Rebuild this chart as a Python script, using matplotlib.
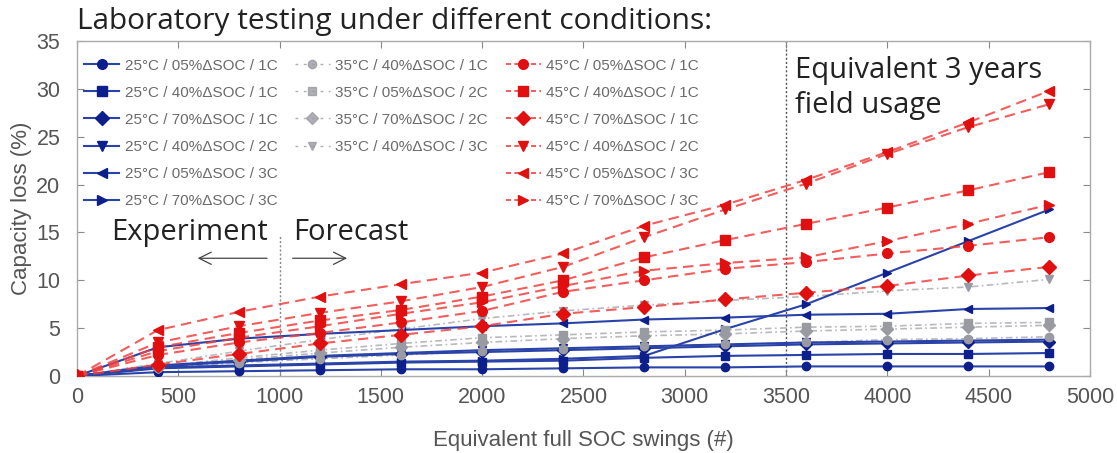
import matplotlib
matplotlib.use("Agg")
import matplotlib.pyplot as plt
from matplotlib.lines import Line2D

swings = [0, 400, 800, 1200, 1600, 2000, 2400, 2800, 3200, 3600, 4000, 4400, 4800]

# 25 degC (blue, solid)
b_05_1C = [0, 0.4, 0.5, 0.6, 0.7, 0.7, 0.8, 0.9, 0.9, 1.0, 1.0, 1.0, 1.0]
b_40_1C = [0, 0.8, 1.0, 1.2, 1.4, 1.5, 1.6, 1.9, 2.1, 2.2, 2.3, 2.3, 2.4]
b_70_1C = [0, 1.0, 1.5, 2.0, 2.3, 2.5, 2.7, 2.9, 3.1, 3.3, 3.4, 3.5, 3.6]
b_40_2C = [0, 1.1, 1.6, 2.1, 2.4, 2.7, 2.9, 3.1, 3.3, 3.5, 3.6, 3.7, 3.8]
b_05_3C = [0, 3.0, 3.9, 4.4, 4.8, 5.2, 5.5, 5.9, 6.1, 6.4, 6.5, 7.0, 7.1]
b_70_3C = [0, 0.9, 1.1, 1.3, 1.5, 1.6, 1.8, 2.1, 4.9, 7.5, 10.8, 14.1, 17.4]

# 35 degC (grey, dash-dot)
g_40_1C = [0, 0.8, 1.4, 1.8, 2.2, 2.6, 2.8, 3.1, 3.3, 3.5, 3.8, 3.9, 4.1]
g_05_2C = [0, 1.0, 1.9, 2.7, 3.4, 4.0, 4.3, 4.6, 4.8, 5.1, 5.2, 5.5, 5.6]
g_70_2C = [0, 0.9, 1.7, 2.4, 3.0, 3.5, 3.9, 4.2, 4.4, 4.7, 4.9, 5.1, 5.3]
g_40_3C = [0, 1.3, 2.6, 3.8, 4.9, 6.0, 6.8, 7.4, 7.9, 8.3, 8.9, 9.3, 10.1]

# 45 degC (red, dashed)
r_05_1C = [0, 2.2, 3.5, 4.5, 5.6, 6.8, 8.8, 10.0, 11.2, 11.9, 12.8, 13.6, 14.5]
r_40_1C = [0, 3.0, 4.5, 5.8, 6.9, 8.3, 10.0, 12.4, 14.2, 15.9, 17.6, 19.4, 21.3]
r_70_1C = [0, 1.2, 2.3, 3.4, 4.3, 5.2, 6.5, 7.2, 8.0, 8.7, 9.4, 10.5, 11.4]
r_40_2C = [0, 3.5, 5.2, 6.6, 7.8, 9.3, 11.4, 14.5, 17.4, 20.1, 23.2, 26.0, 28.4]
r_05_3C = [0, 4.8, 6.7, 8.3, 9.6, 10.8, 12.8, 15.7, 17.9, 20.5, 23.4, 26.5, 29.8]
r_70_3C = [0, 2.6, 4.0, 5.2, 6.5, 7.7, 9.4, 11.0, 11.8, 12.4, 14.1, 15.9, 17.9]

blue_labels = ["25°C / 05%ΔSOC / 1C", "25°C / 40%ΔSOC / 1C", "25°C / 70%ΔSOC / 1C",
               "25°C / 40%ΔSOC / 2C", "25°C / 05%ΔSOC / 3C", "25°C / 70%ΔSOC / 3C"]
grey_labels = ["35°C / 40%ΔSOC / 1C", "35°C / 05%ΔSOC / 2C", "35°C / 70%ΔSOC / 2C",
               "35°C / 40%ΔSOC / 3C"]
red_labels = ["45°C / 05%ΔSOC / 1C", "45°C / 40%ΔSOC / 1C", "45°C / 70%ΔSOC / 1C",
              "45°C / 40%ΔSOC / 2C", "45°C / 05%ΔSOC / 3C", "45°C / 70%ΔSOC / 3C"]

blue_series = [b_05_1C, b_40_1C, b_70_1C, b_40_2C, b_05_3C, b_70_3C]
grey_series = [g_40_1C, g_05_2C, g_70_2C, g_40_3C]
red_series = [r_05_1C, r_40_1C, r_70_1C, r_40_2C, r_05_3C, r_70_3C]

blue_markers = ["o", "s", "D", "v", "<", ">"]
grey_markers = ["o", "s", "D", "v"]
red_markers = ["o", "s", "D", "v", "<", ">"]

BLUE = "#2a43a8"
BLUE_M = "#0c1f8a"
GREY = "#9a9aa2"
RED = "#f04040"
RED_M = "#e01010"

fig = plt.figure(figsize=(11.17, 4.53), dpi=100)
ax = fig.add_axes([0.0689, 0.170, 0.9069, 0.7395])

handles = []
for ys, m, lab in zip(blue_series, blue_markers, blue_labels):
    ax.plot(swings, ys, color=BLUE, lw=1.5, ls="-", zorder=3)
    ax.plot(swings, ys, ls="none", marker=m, ms=6, color=BLUE_M, zorder=4)
    handles.append(Line2D([], [], color=BLUE, lw=1.5, marker=m, ms=7,
                          mfc=BLUE_M, mec=BLUE_M, label=lab))
for ys, m, lab in zip(grey_series, grey_markers, grey_labels):
    ax.plot(swings, ys, color=GREY, lw=1.2, ls=(0, (4, 2, 1, 2)), alpha=0.7, zorder=2)
    ax.plot(swings, ys, ls="none", marker=m, ms=6, color=GREY, zorder=4)
    handles.append(Line2D([], [], color=GREY, lw=1.0, ls=(0, (2, 4)), alpha=0.8,
                          marker=m, ms=6, mfc=GREY, mec=GREY, label=lab))
for _ in range(2):
    handles.append(Line2D([], [], ls="none", label=" "))
for ys, m, lab in zip(red_series, red_markers, red_labels):
    ax.plot(swings, ys, color=RED, lw=1.5, ls=(0, (5, 3)), alpha=0.85, zorder=5)
    ax.plot(swings, ys, ls="none", marker=m, ms=7, color=RED_M, zorder=6)
    handles.append(Line2D([], [], color=RED, lw=1.2, ls=(0, (3, 2)),
                          marker=m, ms=7, mfc=RED_M, mec=RED_M, label=lab))

leg = ax.legend(handles=handles, ncol=3, loc="upper left",
                bbox_to_anchor=(-0.002, 0.975), frameon=False,
                prop={"family": "Liberation Sans", "size": 11},
                handlelength=2.3, handletextpad=0.35, columnspacing=1.15,
                labelspacing=0.86, borderaxespad=0.2)
for t in leg.get_texts():
    t.set_color("#6a6a6a")

ax.set_xlim(0, 5000)
ax.set_ylim(0, 35)
ax.set_xticks(range(0, 5001, 500))
ax.set_yticks(range(0, 36, 5))
ax.tick_params(direction="in", top=True, right=True, length=5, width=0.8,
               colors="#888888", labelcolor="#555555", labelsize=15.5)
ax.tick_params(axis="x", pad=8)
ax.tick_params(axis="y", pad=12)
for lab in ax.get_xticklabels() + ax.get_yticklabels():
    lab.set_family("Liberation Sans")
for s in ax.spines.values():
    s.set_color("#aaaaaa")
    s.set_linewidth(1.0)

ax.set_xlabel("Equivalent full SOC swings (#)", family="Liberation Sans",
              fontsize=16, color="#555555", labelpad=16)
ax.set_ylabel("Capacity loss (%)", family="Liberation Sans",
              fontsize=16, color="#555555", labelpad=3)

# vertical markers
ax.plot([1000, 1000], [0, 14.6], color="#888888", lw=1.0, ls=(0, (1.5, 1.5)), zorder=1)
ax.axvline(3500, color="#555555", lw=1.0, ls=(0, (1.5, 1.5)), zorder=1)

ax.text(943, 15.0, "Experiment", ha="right", va="center",
        family="Open Sans", fontsize=21, color="#222222")
ax.text(1066, 15.0, "Forecast", ha="left", va="center",
        family="Open Sans", fontsize=21, color="#222222")
ax.annotate("", xy=(582, 12.3), xytext=(952, 12.3),
            arrowprops=dict(arrowstyle="->", color="#444444", lw=0.9, mutation_scale=22))
ax.annotate("", xy=(1347, 12.3), xytext=(1051, 12.3),
            arrowprops=dict(arrowstyle="->", color="#444444", lw=0.9, mutation_scale=22))

ax.text(3544, 30.1, "Equivalent 3 years\nfield usage", ha="left", va="center",
        family="Open Sans", fontsize=21, color="#222222", linespacing=1.3)

fig.text(0.069, 0.953, "Laboratory testing under different conditions:",
         ha="left", va="center", family="Open Sans", fontsize=21.5, color="#222222")

fig.savefig("out.png", dpi=100, facecolor="white")
